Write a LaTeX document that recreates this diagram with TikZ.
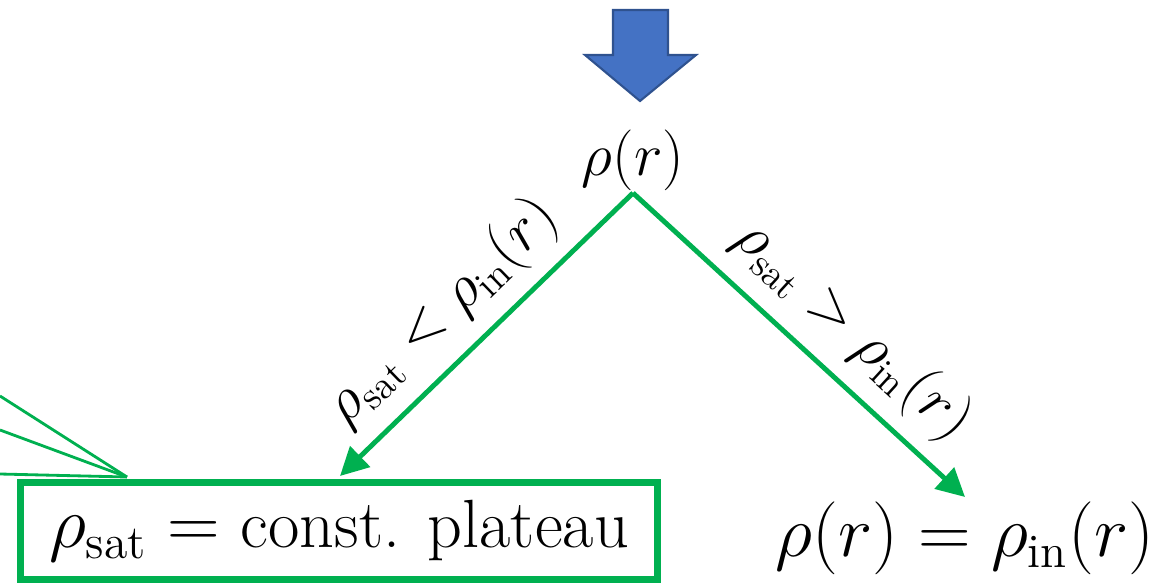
\documentclass[tikz,border=0pt]{standalone}
\usepackage{amsmath}
\usetikzlibrary{arrows.meta}
\definecolor{fitgreen}{HTML}{00B050}
\definecolor{arrowblue}{HTML}{4472C4}
\definecolor{arrowedge}{HTML}{2F528F}

\begin{document}
\begin{tikzpicture}[x=0.01cm, y=-0.01cm,
  branch/.style={draw=fitgreen, line width=1.4pt, -{Triangle[length=8pt,width=8pt]}},
  fanline/.style={draw=fitgreen, line width=0.8pt},
  big/.style={font=\fontsize{18.3}{20}\selectfont},
  lab/.style={font=\fontsize{16}{18}\selectfont, inner sep=4pt}]
  \useasboundingbox (0,0) rectangle (1164,585);
  \filldraw[fill=arrowblue, draw=arrowedge, line width=0.6pt]
    (613,10) -- (668,10) -- (668,55) -- (696,55) -- (640,101) -- (585,55) -- (613,55) -- cycle;
  \node[big] (rho) at (633,160) {$\rho(r)$};
  \coordinate (split) at (633,193);
  \node[big, font=\fontsize{19.4}{22}\selectfont, draw=fitgreen, line width=2pt, minimum width=6.36cm, minimum height=0.97cm, inner sep=0pt] (plateau) at (339,531) {$\rho_{\text{sat}} = \text{const. plateau}$};
  \node[big, font=\fontsize{19.4}{22}\selectfont] (inner) at (965,538) {$\rho(r) = \rho_{\text{in}}(r)$};
  \coordinate (lend) at (340,476);
  \coordinate (rend) at (965,497);
  \draw[branch] (split) -- (lend)
    node[lab, pos=0.54, sloped, above] {$\rho_{\text{sat}} < \rho_{\text{in}}(r)$};
  \draw[branch] (split) -- (rend)
    node[lab, pos=0.565, sloped, above] {$\rho_{\text{sat}} > \rho_{\text{in}}(r)$};
  \coordinate (fan) at (127,477);
  \coordinate (f1) at (0,396);
  \coordinate (f2) at (0,430);
  \coordinate (f3) at (0,474);
  \draw[fanline] (f1) -- (fan);
  \draw[fanline] (f2) -- (fan);
  \draw[fanline] (f3) -- (fan);
\end{tikzpicture}
\end{document}
